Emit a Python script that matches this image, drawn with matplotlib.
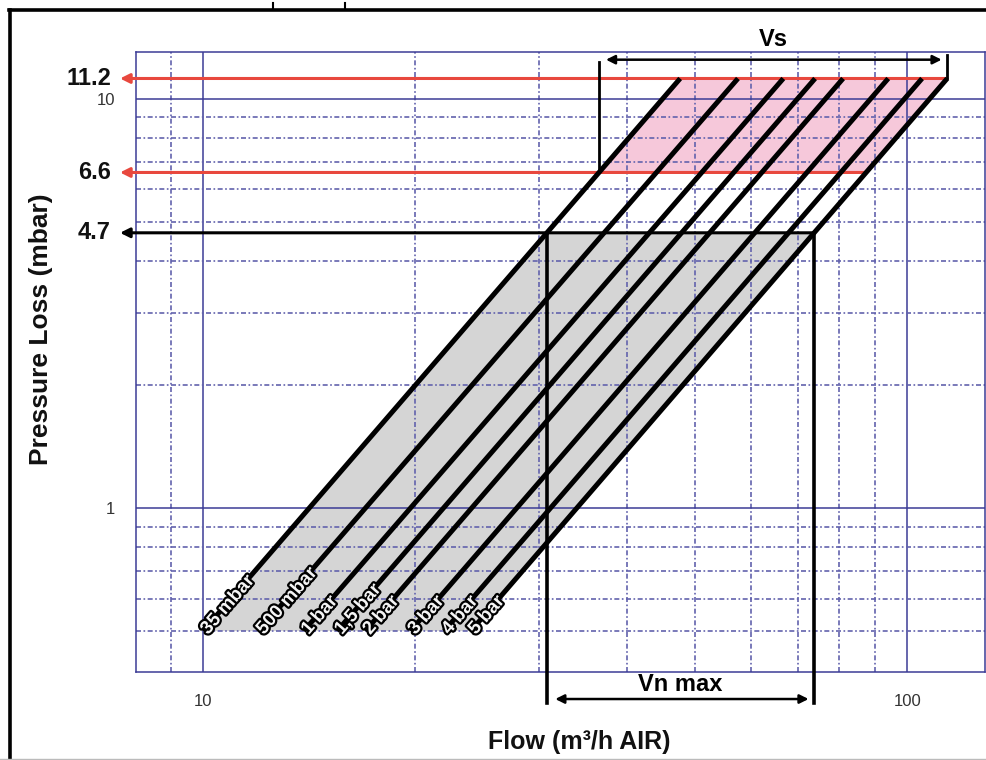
import numpy as np
import matplotlib
matplotlib.use('Agg')
import matplotlib.pyplot as plt
from matplotlib import patheffects as pe
from matplotlib.lines import Line2D
from matplotlib.ticker import NullFormatter

plt.rcParams['font.family'] = ['Liberation Sans', 'DejaVu Sans']

# ---------------- data ----------------
line_labels = ['35 mbar', '500 mbar', '1 bar', '1,5 bar', '2 bar', '3 bar', '4 bar', '5 bar']
flow_lo = [10.0, 12.0, 13.9, 15.5, 17.0, 19.7, 22.0, 24.0]      # flow at dp_lo
flow_hi = [47.6, 57.5, 66.7, 74.0, 81.1, 94.0, 105.0, 114.0]   # flow at dp_hi
dp_lo = 0.5
dp_hi = 11.2
dp_vs_low = 6.6
dp_vn = 4.7
mark_values = [11.2, 6.6, 4.7]
mark_labels = ['11.2', '6.6', '4.7']
x_major = [10, 100]
x_major_labels = ['10', '100']
x_minor = [9, 20, 30, 40, 50, 60, 70, 80, 90]
y_major = [1, 10]
y_major_labels = ['1', '10']
y_minor = [0.5, 0.6, 0.7, 0.8, 0.9, 2, 3, 4, 5, 6, 7, 8, 9]

W, H = 986, 760
fig = plt.figure(figsize=(W / 100, H / 100), dpi=100)
ax = fig.add_axes([136 / W, 88 / H, 849 / W, 620 / H])
ax.set_xscale('log')
ax.set_yscale('log')
ax.set_xlim(8.03, 129)
ax.set_ylim(0.397, 13.0)

navy = '#3c3c96'
minor_c = '#6262ad'
ax.set_xticks(x_major)
ax.set_xticklabels(x_major_labels)
ax.set_xticks(x_minor, minor=True)
ax.set_yticks(y_major)
ax.set_yticklabels(y_major_labels)
ax.set_yticks(y_minor, minor=True)
ax.xaxis.set_minor_formatter(NullFormatter())
ax.yaxis.set_minor_formatter(NullFormatter())
ax.tick_params(which='both', length=0)
ax.tick_params(axis='x', pad=16, labelsize=12, labelcolor='#333333')
ax.tick_params(axis='y', pad=15, labelsize=12, labelcolor='#333333')
ax.set_axisbelow(True)
ax.grid(which='major', color=navy, lw=1.1, ls='-')
ax.grid(which='minor', color=minor_c, lw=1.2, ls=(0, (3, 1.5, 1, 1.5)))
for s in ax.spines.values():
    s.set_color(navy)
    s.set_linewidth(1.1)


def x_at(i, y):
    """flow of line i at pressure loss y (straight line in log-log)."""
    t = (np.log(y) - np.log(dp_lo)) / (np.log(dp_hi) - np.log(dp_lo))
    return float(np.exp(np.log(flow_lo[i]) + t * (np.log(flow_hi[i]) - np.log(flow_lo[i]))))


n = len(flow_lo) - 1

# gray region (Vn max)
ax.fill([flow_lo[0], x_at(0, dp_vn), x_at(n, dp_vn), flow_lo[n]],
        [dp_lo, dp_vn, dp_vn, dp_lo], color='#d5d5d5', zorder=0.3, lw=0)
# pink region (Vs)
ax.fill([x_at(0, dp_vs_low), flow_hi[0], flow_hi[n], x_at(n, dp_vs_low)],
        [dp_vs_low, dp_hi, dp_hi, dp_vs_low], color='#f6c8da', zorder=0.3, lw=0)

# diagonal lines
for i in range(len(flow_lo)):
    ax.plot([flow_lo[i], flow_hi[i]], [dp_lo, dp_hi], color='black', lw=3.6,
            solid_capstyle='butt', zorder=4)

# line labels
for i, lab in enumerate(line_labels):
    p1 = ax.transData.transform((flow_lo[i], dp_lo))
    p2 = ax.transData.transform((flow_hi[i], dp_hi))
    ang = np.degrees(np.arctan2(p2[1] - p1[1], p2[0] - p1[0]))
    ax.text(flow_lo[i], dp_lo, lab, rotation=ang, rotation_mode='anchor',
            ha='left', va='center_baseline', fontsize=13.5, fontweight='bold',
            color='#f4f4f4', zorder=6,
            path_effects=[pe.withStroke(linewidth=3.2, foreground='black')])

# horizontal arrows to the left
red = '#e8483e'
arrow_from = [flow_hi[n], x_at(n, dp_vs_low), x_at(n, dp_vn)]
arrow_col = [red, red, 'black']
for val, lab, xs, col in zip(mark_values, mark_labels, arrow_from, arrow_col):
    ax.annotate('', xy=(120, val), xycoords=('figure pixels', 'data'),
                xytext=(xs, val), textcoords='data',
                arrowprops=dict(arrowstyle='-|>', color=col, lw=2.2,
                                mutation_scale=14, shrinkA=0, shrinkB=0),
                annotation_clip=False, zorder=3)
    ax.annotate(lab, xy=(111, val), xycoords=('figure pixels', 'data'),
                ha='right', va='center', fontsize=17, fontweight='bold',
                color='#111111', annotation_clip=False)

# Vn max
xa, xb = x_at(0, dp_vn), x_at(n, dp_vn)
for xv in (xa, xb):
    ax.plot([xv, xv], [dp_vn, 0.334], color='black', lw=2.6, clip_on=False, zorder=5)
ax.annotate('', xy=(xb, 0.341), xytext=(xa, 0.341), xycoords='data',
            arrowprops=dict(arrowstyle='<|-|>', color='black', lw=1.8,
                            mutation_scale=13, shrinkA=6, shrinkB=4),
            annotation_clip=False)
ax.text(np.sqrt(xa * xb), 0.371, 'Vn max', ha='center', va='center',
        fontsize=17, fontweight='bold', clip_on=False)

# Vs
xc, xd = x_at(0, dp_vs_low), flow_hi[n]
ax.plot([xc, xc], [dp_vs_low, 12.3], color='black', lw=2.0, clip_on=False, zorder=5)
ax.plot([xd, xd], [dp_hi, 12.75], color='black', lw=2.0, clip_on=False, zorder=5)
ax.annotate('', xy=(xd, 12.45), xytext=(xc, 12.45), xycoords='data',
            arrowprops=dict(arrowstyle='<|-|>', color='black', lw=1.8,
                            mutation_scale=13, shrinkA=5, shrinkB=4),
            annotation_clip=False)
ax.text(np.sqrt(xc * xd), 13.95, 'Vs', ha='center', va='center',
        fontsize=17, fontweight='bold', clip_on=False)

# axis titles
fig.text(579 / W, 1 - 742 / H, 'Flow (m³/h AIR)', ha='center', va='center',
         fontsize=18, fontweight='bold', color='#111111')
fig.text(41 / W, 1 - 329 / H, 'Pressure Loss (mbar)', ha='center', va='center',
         rotation=90, fontsize=19, fontweight='bold', color='#111111')

# outer frame
fig.add_artist(Line2D([9.5 / W, 9.5 / W], [0, 1 - 9.5 / H], transform=fig.transFigure,
                      color='black', lw=2.6))
fig.add_artist(Line2D([8.5 / W, 1], [1 - 9.5 / H, 1 - 9.5 / H], transform=fig.transFigure,
                      color='black', lw=2.6))
fig.add_artist(Line2D([0, 1], [1.5 / H, 1.5 / H], transform=fig.transFigure,
                      color='#bbbbbb', lw=1.0))
for px in (273, 345):
    fig.add_artist(Line2D([px / W, px / W], [1 - 3 / H, 1 - 9 / H], transform=fig.transFigure,
                          color='black', lw=1.5))

fig.savefig('out.png', dpi=100)
